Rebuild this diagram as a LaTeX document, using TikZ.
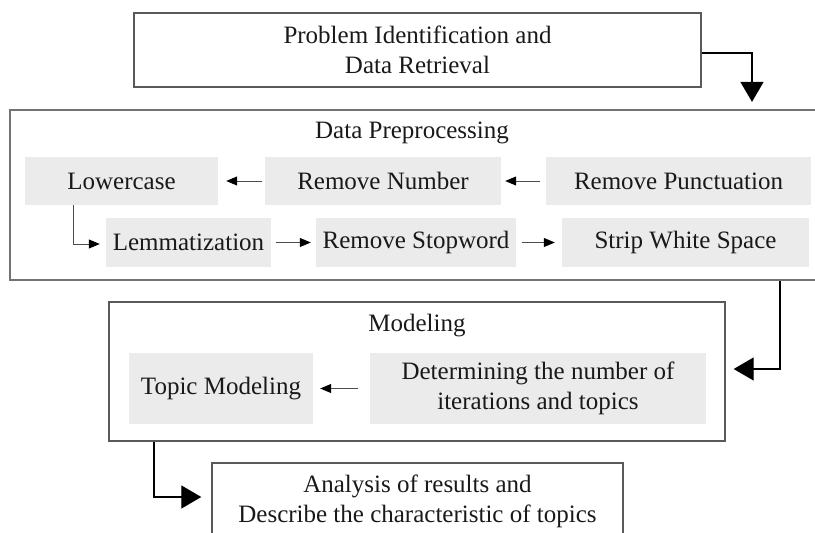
\documentclass[tikz,border=0pt]{standalone}
\usepackage{fontspec}
\setmainfont{Liberation Serif}
\usetikzlibrary{arrows.meta}
\begin{document}
\begin{tikzpicture}[x=1pt,y=-1pt,
  every node/.style={font=\fontsize{25}{30}\selectfont, inner sep=0pt, align=center, text=black!90},
  outer/.style={draw=black!65, line width=1.4pt},
  gbox/.style={fill=black!8},
  big/.style={draw=black, line width=1.3pt, -{Triangle[length=20pt,width=23pt]}},
  small/.style={draw=black!70, line width=1pt, -{Triangle[length=11pt,width=9pt,fill=black,color=black]}, shorten <=5pt, shorten >=5pt},
]
\useasboundingbox (0,0) rectangle (815,533);

% containers
\node[outer, minimum width=567pt, minimum height=74pt] (top) at (417.5,50) {Problem Identification and\\Data Retrieval};
\node[draw=black!55, line width=2.2pt, minimum width=810pt, minimum height=170pt] (pre) at (415,195) {};
\node (pretitle) at (412,133) {Data Preprocessing};
\node[outer, minimum width=616pt, minimum height=139pt] (model) at (417,371.5) {};
\node (modtitle) at (417,326) {Modeling};
\node[outer, minimum width=411pt, minimum height=77pt] (ana) at (417.5,501.5) {Analysis of results and\\Describe the characteristic of topics};

% preprocessing steps
\node[gbox, minimum width=193pt, minimum height=48pt] (lower) at (121.5,181) {Lowercase};
\node[gbox, minimum width=236pt, minimum height=48pt] (num) at (383,181) {Remove Number};
\node[gbox, minimum width=265pt, minimum height=48pt] (punc) at (678.5,181) {Remove Punctuation};
\node[gbox, minimum width=165pt, minimum height=49pt] (lem) at (188.5,242.5) {Lemmatization};
\node[gbox, minimum width=200pt, minimum height=49pt] (stop) at (416,242.5) {Remove Stopword};
\node[gbox, minimum width=247pt, minimum height=49pt] (strip) at (685.5,242.5) {Strip White Space};

% modeling steps
\node[gbox, minimum width=184pt, minimum height=71pt] (topic) at (221,388.5) {Topic Modeling};
\node[gbox, minimum width=336pt, minimum height=71pt] (det) at (538,388.5) {Determining the number of\\iterations and topics};

% helper coordinates for connector columns
\coordinate (c1) at (752,0);
\coordinate (c2) at (780,0);
\coordinate (c3) at (154,0);
\coordinate (c4) at (73,0);

% main connectors
\draw[big, shorten >=7pt] ([yshift=-3pt]top.east) -| (c1 |- pre.north);
\draw[big, shorten >=8pt] (pre.south -| c2) |- ([yshift=2.5pt]model.east);
\draw[big, shorten >=10pt] (model.south -| c3) |- ([yshift=4.5pt]ana.west);

% step connectors
\draw[small, shorten <=6pt, shorten >=4pt] (punc.west) -- (num.east);
\draw[small, shorten <=3pt, shorten >=8pt] (num.west) -- (lower.east);
\draw[small, shorten <=0pt, shorten >=6pt] (lower.south -| c4) |- ([yshift=-1.5pt]lem.west);
\draw[small] (lem.east) -- (stop.west);
\draw[small, shorten <=6pt, shorten >=7pt] (stop.east) -- (strip.west);
\draw[small, shorten <=12pt, shorten >=7pt] (det.west) -- (topic.east);
\end{tikzpicture}
\end{document}
